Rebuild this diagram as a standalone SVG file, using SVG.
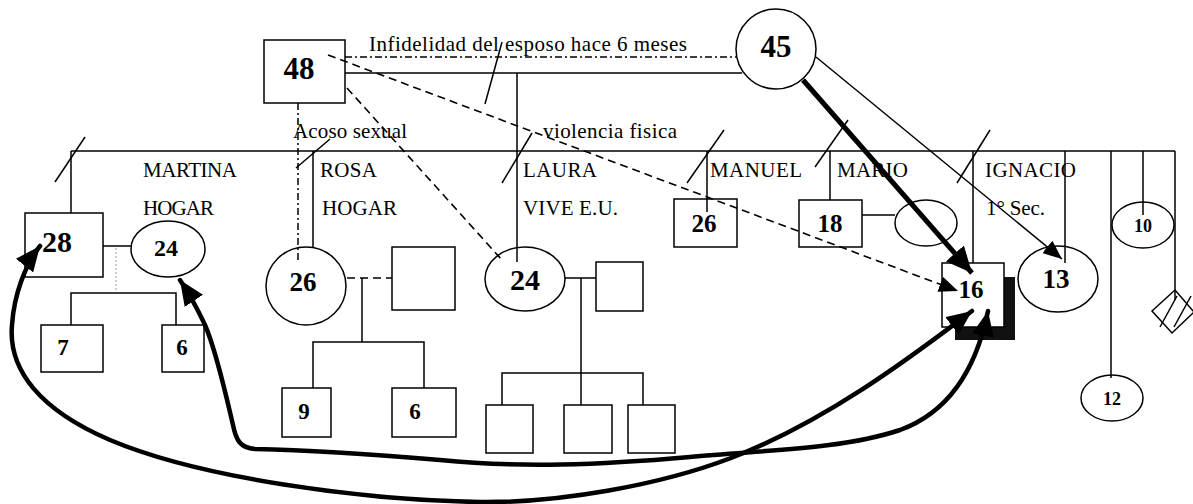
<svg xmlns="http://www.w3.org/2000/svg" width="1193" height="504" viewBox="0 0 1193 504">
<style>
.s{fill:#fff;stroke:#000;stroke-width:1.5}
.ln{fill:none;stroke:#000;stroke-width:1.5}
.dash{fill:none;stroke:#000;stroke-width:1.6;stroke-dasharray:8 5}
.dd{fill:none;stroke:#000;stroke-width:1.5;stroke-dasharray:7 3 2 3}
.thick{fill:none;stroke:#000;stroke-width:5}
.curve{fill:none;stroke:#000;stroke-width:4.5;stroke-linecap:round}
.t{font-family:"Liberation Serif","Times New Roman",serif;font-size:21px;fill:#000}
.n{font-family:"Liberation Serif","Times New Roman",serif;font-weight:bold;fill:#000;text-anchor:middle}
</style>
<defs>
<marker id="aBig" markerUnits="userSpaceOnUse" markerWidth="28" markerHeight="24" refX="26" refY="12" orient="auto"><path d="M0,0 L26,12 L0,24 z" fill="#000"/></marker>
<marker id="aCur" markerUnits="userSpaceOnUse" markerWidth="27" markerHeight="22" refX="25" refY="11" orient="auto-start-reverse"><path d="M0,0 L25,11 L0,22 z" fill="#000"/></marker>
<marker id="aSm" markerUnits="userSpaceOnUse" markerWidth="20" markerHeight="16" refX="19" refY="8" orient="auto"><path d="M0,0 L19,8 L0,16 z" fill="#000"/></marker>
</defs>
<rect width="1193" height="504" fill="#fff"/>

<g id="n48"><rect class="s" x="264" y="40" width="81" height="63"/><text class="n" x="299" y="79" font-size="31">48</text></g>
<g id="n45"><circle class="s" cx="776" cy="49" r="40"/><text class="n" x="776" y="57" font-size="31">45</text></g>
<g id="n28"><rect class="s" x="25" y="213" width="78" height="64"/><text class="n" x="57" y="252" font-size="30">28</text></g>
<g id="n24a"><ellipse class="s" cx="168" cy="249" rx="37" ry="28"/><text class="n" x="166" y="256" font-size="24">24</text></g>
<g id="n7"><rect class="s" x="41" y="325" width="62" height="47"/><text class="n" x="63" y="355" font-size="23">7</text></g>
<g id="n6a"><rect class="s" x="162" y="325" width="42" height="47"/><text class="n" x="182" y="355" font-size="23">6</text></g>
<g id="n26a"><ellipse class="s" cx="306" cy="286" rx="40" ry="39"/><text class="n" x="303" y="291" font-size="27">26</text></g>
<g id="nRosaSp"><rect class="s" x="392" y="247" width="63" height="63"/></g>
<g id="n9"><rect class="s" x="282" y="388" width="49" height="49"/><text class="n" x="304" y="419" font-size="23">9</text></g>
<g id="n6b"><rect class="s" x="392" y="388" width="64" height="49"/><text class="n" x="415" y="419" font-size="23">6</text></g>
<g id="n24b"><ellipse class="s" cx="525" cy="279" rx="40" ry="32"/><text class="n" x="525" y="290" font-size="30">24</text></g>
<g id="nLauraSp"><rect class="s" x="596" y="262" width="47" height="49"/></g>
<g id="nL1"><rect class="s" x="486" y="405" width="47" height="48"/></g>
<g id="nL2"><rect class="s" x="564" y="405" width="48" height="48"/></g>
<g id="nL3"><rect class="s" x="628" y="405" width="47" height="48"/></g>
<g id="n26b"><rect class="s" x="674" y="199" width="63" height="48"/><text class="n" x="704" y="232" font-size="25">26</text></g>
<g id="n18"><rect class="s" x="799" y="200" width="63" height="47"/><text class="n" x="830" y="232" font-size="25">18</text></g>
<g id="nMarioSp"><ellipse class="s" cx="926" cy="223" rx="31" ry="23"/></g>
<g id="n16"><rect x="955" y="277" width="60" height="63" fill="#111"/><rect class="s" x="942" y="263" width="62" height="64"/><text class="n" x="971" y="298" font-size="25">16</text></g>
<g id="n13"><ellipse class="s" cx="1058" cy="279" rx="40" ry="33"/><text class="n" x="1056" y="288" font-size="27">13</text></g>
<g id="n10"><ellipse class="s" cx="1143" cy="225" rx="31" ry="23"/><text class="n" x="1143" y="232" font-size="18">10</text></g>
<g id="n12"><ellipse class="s" cx="1112" cy="398" rx="31" ry="23"/><text class="n" x="1112" y="405" font-size="18">12</text></g>
<g id="nDiamond"><polygon class="s" points="1175,290 1194,312 1172,333 1152,311"/><line class="ln" x1="1160" y1="327" x2="1177" y2="296"/><line class="ln" x1="1174" y1="327" x2="1191" y2="296"/></g>

<g id="labels">
  <text class="t" x="369" y="51" font-size="22" textLength="318">Infidelidad del esposo hace 6 meses</text>
  <text class="t" x="293" y="138" font-size="22" textLength="114">Acoso sexual</text>
  <text class="t" x="543" y="138" font-size="22" textLength="134">violencia fisica</text>
  <text class="t" x="143" y="177" textLength="94">MARTINA</text>
  <text class="t" x="143" y="215" textLength="71">HOGAR</text>
  <text class="t" x="320" y="177" textLength="57">ROSA</text>
  <text class="t" x="322" y="215" textLength="75">HOGAR</text>
  <text class="t" x="523" y="177" textLength="74">LAURA</text>
  <text class="t" x="523" y="215" textLength="95">VIVE E.U.</text>
  <text class="t" x="710" y="177" textLength="92">MANUEL</text>
  <text class="t" x="837" y="177" textLength="71">MARIO</text>
  <text class="t" x="985" y="177" textLength="91">IGNACIO</text>
  <text class="t" x="986" y="215" textLength="59">1° Sec.</text>
</g>

<g id="connectors">
  <line class="dd" x1="345" y1="57" x2="737" y2="57"/>
  <line class="ln" x1="345" y1="73" x2="742" y2="73"/>
  <line class="ln" x1="517" y1="73" x2="517" y2="262"/>
  <line class="ln" x1="485" y1="104" x2="502" y2="42"/>
  <line class="ln" x1="71" y1="151" x2="1175" y2="151"/>
  <line class="ln" x1="71" y1="151" x2="71" y2="213"/>
  <line class="ln" x1="313" y1="151" x2="313" y2="247"/>
  <line class="ln" x1="707" y1="151" x2="707" y2="212"/>
  <line class="ln" x1="830" y1="151" x2="830" y2="200"/>
  <line class="ln" x1="973" y1="151" x2="973" y2="263"/>
  <line class="ln" x1="1065" y1="151" x2="1065" y2="263"/>
  <line class="ln" x1="1111" y1="151" x2="1111" y2="378"/>
  <line class="ln" x1="1143" y1="151" x2="1143" y2="215"/>
  <line class="ln" x1="1175" y1="151" x2="1175" y2="300"/>
  <line class="ln" x1="55" y1="182" x2="85" y2="137"/>
  <line class="ln" x1="296" y1="168" x2="330" y2="139"/>
  <line class="ln" x1="502" y1="183" x2="532" y2="133"/>
  <line class="ln" x1="687" y1="183" x2="724" y2="130"/>
  <line class="ln" x1="815" y1="167" x2="848" y2="120"/>
  <line class="ln" x1="957" y1="183" x2="990" y2="130"/>
  <line class="ln" x1="103" y1="246" x2="131" y2="246"/>
  <line x1="116" y1="248" x2="116" y2="290" stroke="#999" stroke-width="1" stroke-dasharray="2 2"/>
  <polyline class="ln" points="71,325 71,293 176,293 176,325"/>
  <line class="dash" x1="347" y1="278" x2="392" y2="278"/>
  <line class="ln" x1="362" y1="278" x2="362" y2="342"/>
  <polyline class="ln" points="313,388 313,342 424,342 424,388"/>
  <line class="ln" x1="565" y1="278" x2="596" y2="278"/>
  <line class="ln" x1="581" y1="278" x2="581" y2="405"/>
  <polyline class="ln" points="502,405 502,373 643,373 643,405"/>
  <line class="ln" x1="862" y1="215" x2="895" y2="215"/>
  <line class="dd" x1="298" y1="103" x2="298" y2="260"/>
  <line class="dash" x1="347" y1="88" x2="502" y2="260"/>
  <line class="dash" x1="328" y1="55" x2="958" y2="291" marker-end="url(#aSm)"/>
  <line class="ln" x1="816" y1="57" x2="1062" y2="259" marker-end="url(#aSm)"/>
  <line class="thick" x1="803" y1="80" x2="972" y2="273" marker-end="url(#aBig)"/>
  <path class="curve" d="M972,311 C920,350 830,420 731,458 C660,485 560,503 480,502 C360,500 200,478 110,440 C40,410 8,370 12,325 C14,295 25,265 40,246" marker-start="url(#aCur)" marker-end="url(#aCur)"/>
  <path class="curve" d="M988,311 C978,360 955,410 900,430 C840,450 760,450 690,457 C600,465 520,468 440,460 C380,455 300,450 255,449 C240,448 236,440 233,425 C226,395 216,350 205,325 C198,310 190,295 180,280" marker-start="url(#aCur)" marker-end="url(#aCur)"/>
</g>
</svg>
